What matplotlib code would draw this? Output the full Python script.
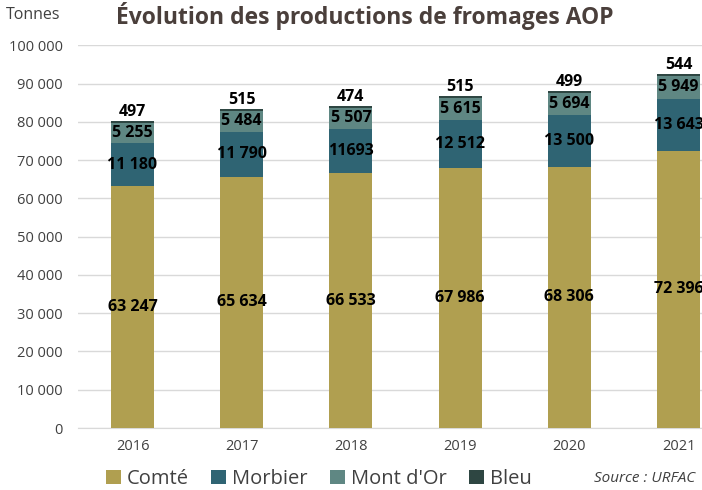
import numpy as np
import matplotlib.pyplot as plt

years = ["2016", "2017", "2018", "2019", "2020", "2021"]
comte = [63247, 65634, 66533, 67986, 68306, 72396]
morbier = [11180, 11790, 11693, 12512, 13500, 13643]
mont_dor = [5255, 5484, 5507, 5615, 5694, 5949]
bleu = [497, 515, 474, 515, 499, 544]
morbier_labels = ["11 180", "11 790", "11693", "12 512", "13 500", "13 643"]

names = ["Comté", "Morbier", "Mont d'Or", "Bleu"]
colors = ["#B09F50", "#2F6473", "#5F8783", "#2E4642"]

plt.rcParams['font.family'] = ['Open Sans', 'DejaVu Sans']


def fmt(v):
    return f"{v:,}".replace(",", " ")


fig = plt.figure(figsize=(7.02, 4.9), dpi=100)
ax = fig.add_axes([0.111, 0.1265, 0.889, 0.781])

x = np.arange(len(years))
w = 0.395
bottom = np.zeros(len(years))
series = [comte, morbier, mont_dor, bleu]
for vals, name, c in zip(series, names, colors):
    ax.bar(x, vals, w, bottom=bottom, color=c, label=name, zorder=3)
    bottom += np.array(vals)

for i in range(len(years)):
    ax.text(x[i], comte[i] / 2, fmt(comte[i]), ha="center", va="center",
            fontsize=11.5, fontweight="bold", color="black", zorder=4)
    ax.text(x[i], comte[i] + morbier[i] / 2, morbier_labels[i], ha="center", va="center",
            fontsize=11.5, fontweight="bold", color="black", zorder=4)
    b = comte[i] + morbier[i]
    ax.text(x[i], b + mont_dor[i] / 2, fmt(mont_dor[i]), ha="center", va="center",
            fontsize=11.5, fontweight="bold", color="black", zorder=4)
    ax.text(x[i], bottom[i] + 300, fmt(bleu[i]), ha="center", va="bottom",
            fontsize=11.5, fontweight="bold", color="black", zorder=4)

ax.set_ylim(0, 100000)
ax.set_xlim(-0.5, 5.215)
ax.set_yticks(np.arange(0, 100001, 10000))
ax.set_yticklabels([fmt(v) for v in range(0, 100001, 10000)])
ax.set_xticks(x)
ax.set_xticklabels(years)
ax.tick_params(axis="y", length=0, labelsize=10.5, colors="#404040", pad=11)
ax.tick_params(axis="x", length=0, labelsize=10.5, colors="#404040", pad=8)
ax.grid(axis="y", color="#D9D9D9", linewidth=1, zorder=0)
for s in ax.spines.values():
    s.set_visible(False)
ax.spines["bottom"].set_visible(True)
ax.spines["bottom"].set_color("#D9D9D9")

fig.text(0.008, 0.985, "Tonnes", ha="left", va="top", fontsize=11.5, color="#404040")
fig.text(0.52, 0.995, "Évolution des productions de fromages AOP", ha="center", va="top",
         fontsize=16.5, fontweight="bold", color="#4A3F3B")

leg = fig.legend(loc="lower left", bbox_to_anchor=(0.125, -0.035), ncol=4, frameon=False,
                 fontsize=14.5, handlelength=0.75, handleheight=0.75, handletextpad=0.3,
                 columnspacing=1.1, labelcolor="#404040")
fig.text(0.99, 0.008, "Source : URFAC", ha="right", va="bottom", fontsize=11,
         style="italic", color="#404040")

fig.savefig("out.png", dpi=100)
